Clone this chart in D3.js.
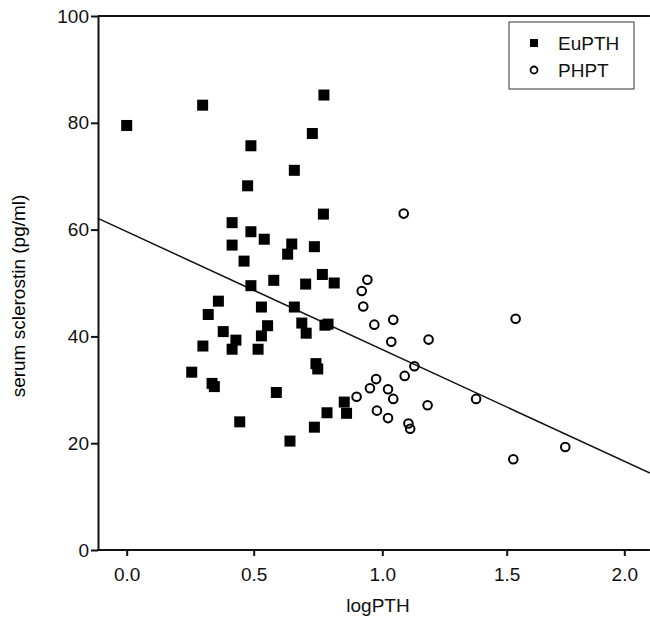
<!DOCTYPE html>
<html>
<head>
<meta charset="utf-8">
<script src="https://cdn.jsdelivr.net/npm/d3@7"></script>
<style>
  body { margin: 0; background: #fff; }
  text { font-family: "Liberation Sans", Arial, sans-serif; fill: #111; }
</style>
</head>
<body>
<div id="main-container"></div>
<script>
// EuPTH group (filled squares)
const euLogPTH = [0.00, 0.299, 0.773, 0.728, 0.489, 0.658, 0.476, 0.771, 0.415, 0.489,
    0.541, 0.415, 0.648, 0.632, 0.736, 0.462, 0.578, 0.489, 0.702, 0.767,
    0.813, 0.361, 0.321, 0.530, 0.658, 0.687, 0.704, 0.777, 0.789, 0.554,
    0.530, 0.380, 0.430, 0.415, 0.300, 0.517, 0.742, 0.749, 0.256, 0.336,
    0.345, 0.588, 0.852, 0.861, 0.785, 0.736, 0.445, 0.641];
const euSclerostin = [79.5, 83.3, 85.2, 78.0, 75.7, 71.1, 68.2, 62.9, 61.3, 59.6,
    58.2, 57.1, 57.3, 55.4, 56.8, 54.1, 50.5, 49.5, 49.8, 51.6,
    50.0, 46.6, 44.1, 45.5, 45.5, 42.5, 40.6, 42.1, 42.3, 42.0,
    40.1, 40.9, 39.3, 37.6, 38.2, 37.6, 34.9, 33.9, 33.3, 31.2,
    30.6, 29.5, 27.7, 25.6, 25.7, 23.0, 24.0, 20.4];

// PHPT group (open circles)
const phLogPTH = [1.086, 0.942, 0.920, 0.926, 1.044, 1.538, 0.969, 1.036, 1.186, 1.129,
    1.090, 0.976, 0.952, 1.023, 1.044, 0.900, 1.377, 1.182, 0.979, 1.023,
    1.105, 1.112, 1.749, 1.528];
const phSclerostin = [63.0, 50.6, 48.5, 45.6, 43.1, 43.3, 42.2, 39.0, 39.4, 34.4,
    32.6, 32.0, 30.3, 30.1, 28.3, 28.7, 28.3, 27.1, 26.1, 24.7,
    23.7, 22.7, 19.3, 17.0];

// fitted regression line (end points)
const fitX = [-0.113, 2.109];
const fitY = [62.1, 14.4];

const xTicks = [0, 0.5, 1.0, 1.5, 2.0];
const yTicks = [0, 20, 40, 60, 80, 100];
const legendLabels = ["EuPTH", "PHPT"];

const chartWidth = 650, chartHeight = 623;
const plotTop = 16, plotBottom = 550;
const xMin = -0.113, xMax = 2.109;

const svg = d3.select("#main-container").append("svg")
    .attr("width", chartWidth)
    .attr("height", chartHeight);

// the printed axis is not perfectly even, so map each tick separately
let xAxis = d3.scaleLinear()
    .domain(xTicks)
    .range([126.7, 253.7, 382.3, 506.7, 624.3]);

let yAxis = d3.scaleLinear()
    .domain([0, 100])
    .range([plotBottom, plotTop]);

// top frame line
svg.append("line")
    .attr("x1", xAxis(xMin)).attr("x2", xAxis(xMax))
    .attr("y1", yAxis(100)).attr("y2", yAxis(100))
    .attr("stroke", "#111").attr("stroke-width", 2);

// x axis
const gx = svg.append("g")
    .attr("transform", `translate(0, ${plotBottom})`)
    .call(d3.axisBottom(xAxis).tickValues(xTicks).tickFormat(d3.format(".1f"))
        .tickSize(6).tickPadding(12).tickSizeOuter(0));
gx.select(".domain").remove();
gx.selectAll(".tick line").attr("stroke", "#111").attr("stroke-width", 2);
gx.selectAll("text").style("font-size", "19px").attr("fill", "#111");
svg.append("line")
    .attr("x1", xAxis(xMin) - 1).attr("x2", xAxis(xMax))
    .attr("y1", plotBottom).attr("y2", plotBottom)
    .attr("stroke", "#111").attr("stroke-width", 2);

// y axis
const gy = svg.append("g")
    .attr("transform", `translate(${xAxis(xMin)}, 0)`)
    .call(d3.axisLeft(yAxis).tickValues(yTicks).tickSize(7).tickPadding(2).tickSizeOuter(0));
gy.select(".domain").attr("stroke", "#111").attr("stroke-width", 2);
gy.selectAll(".tick line").attr("stroke", "#111").attr("stroke-width", 2);
gy.selectAll("text").style("font-size", "19px").attr("fill", "#111");

// axis titles
svg.append("text")
    .attr("x", (xAxis(xMin) + xAxis(xMax)) / 2 + 4)
    .attr("y", 612)
    .attr("text-anchor", "middle")
    .attr("fill", "#000")
    .style("font-size", "19px")
    .text("logPTH");

svg.append("text")
    .attr("transform", `translate(25, ${(plotTop + plotBottom) / 2 + 13})rotate(-90)`)
    .attr("text-anchor", "middle")
    .attr("fill", "#000")
    .style("fill", "#000")
    .style("font-size", "19px")
    .text("serum sclerostin (pg/ml)");

// regression line
svg.append("line")
    .attr("x1", xAxis(fitX[0])).attr("y1", yAxis(fitY[0]))
    .attr("x2", xAxis(fitX[1])).attr("y2", yAxis(fitY[1]))
    .attr("stroke", "#111").attr("stroke-width", 1.5);

// EuPTH squares
const sq = 11;
svg.selectAll("rect.eu")
    .data(euLogPTH.map((d, i) => [d, euSclerostin[i]]))
    .join("rect")
    .attr("class", "eu")
    .attr("x", d => xAxis(d[0]) - sq / 2)
    .attr("y", d => yAxis(d[1]) - sq / 2)
    .attr("width", sq)
    .attr("height", sq)
    .attr("fill", "#000");

// PHPT circles
svg.selectAll("circle.ph")
    .data(phLogPTH.map((d, i) => [d, phSclerostin[i]]))
    .join("circle")
    .attr("class", "ph")
    .attr("cx", d => xAxis(d[0]))
    .attr("cy", d => yAxis(d[1]))
    .attr("r", 4.3)
    .attr("fill", "none")
    .attr("stroke", "#000")
    .attr("stroke-width", 2);

// legend
const legend = svg.append("g").attr("transform", "translate(509, 22)");
legend.append("rect")
    .attr("width", 125).attr("height", 67)
    .attr("fill", "#fff").attr("stroke", "#333").attr("stroke-width", 1);
legend.append("rect")
    .attr("x", 21).attr("y", 17).attr("width", 8).attr("height", 8)
    .attr("fill", "#000");
legend.append("circle")
    .attr("cx", 25).attr("cy", 48).attr("r", 3.5)
    .attr("fill", "none").attr("stroke", "#000").attr("stroke-width", 1.8);
legend.selectAll("text.lab")
    .data(legendLabels)
    .join("text")
    .attr("class", "lab")
    .attr("x", 49)
    .attr("y", (d, i) => 28 + i * 27)
    .style("font-size", "19px")
    .text(d => d);
</script>
</body>
</html>
